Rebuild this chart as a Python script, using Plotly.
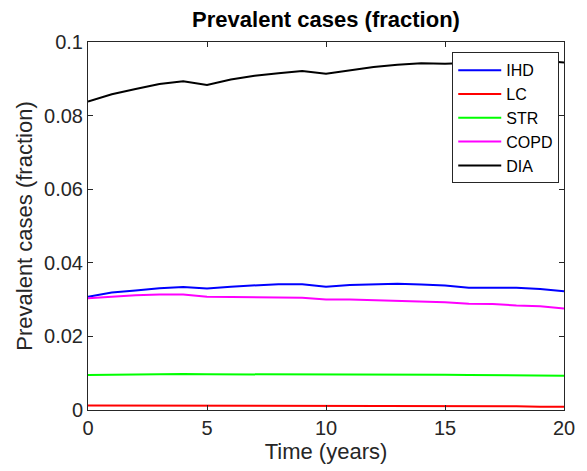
import plotly.graph_objects as go

years = list(range(0, 21))
IHD = [0.0308, 0.0319, 0.0325, 0.0331, 0.0334, 0.0330, 0.0335, 0.0339, 0.0342, 0.0342, 0.0335,
       0.0340, 0.0342, 0.0343, 0.0341, 0.0338, 0.0332, 0.0333, 0.0332, 0.0329, 0.0323]
LC = [0.0012, 0.0012, 0.0012, 0.0012, 0.0012, 0.0011, 0.0011, 0.0011, 0.0011, 0.0011, 0.0011,
      0.0011, 0.0011, 0.0011, 0.0011, 0.0010, 0.0010, 0.0010, 0.0010, 0.0009, 0.0009]
STR = [0.0095, 0.0096, 0.0097, 0.0097, 0.0098, 0.0097, 0.0097, 0.0098, 0.0098, 0.0098, 0.0097,
       0.0097, 0.0097, 0.0097, 0.0097, 0.0096, 0.0095, 0.0095, 0.0095, 0.0094, 0.0093]
COPD = [0.0304, 0.0309, 0.0312, 0.0314, 0.0314, 0.0308, 0.0308, 0.0308, 0.0306, 0.0305, 0.0300,
        0.0300, 0.0298, 0.0298, 0.0296, 0.0293, 0.0289, 0.0288, 0.0284, 0.0282, 0.0276]
DIA = [0.0838, 0.0858, 0.0872, 0.0886, 0.0893, 0.0883, 0.0898, 0.0908, 0.0915, 0.0921, 0.0914,
       0.0924, 0.0932, 0.0938, 0.0942, 0.0941, 0.0943, 0.0945, 0.0948, 0.0950, 0.0944]

series = [("IHD", IHD, "#0000ff"), ("LC", LC, "#ff0000"), ("STR", STR, "#00ff00"),
          ("COPD", COPD, "#ff00ff"), ("DIA", DIA, "#000000")]

fig = go.Figure()
for name, vals, col in series:
    fig.add_trace(go.Scatter(x=years, y=vals, mode="lines", name=name,
                             line=dict(color=col, width=2)))

axis_common = dict(showline=True, linecolor="#262626", linewidth=1, mirror="ticks",
                   ticks="inside", ticklen=5, tickcolor="#262626", showgrid=False,
                   zeroline=False, tickfont=dict(size=20, color="#262626"),
                   title_font=dict(size=22, color="#262626"))

fig.update_layout(
    width=587, height=471,
    margin=dict(l=88, r=14, t=42, b=61),
    paper_bgcolor="white", plot_bgcolor="white",
    font=dict(family="Liberation Sans, Arial, sans-serif", color="#262626"),
    title=dict(text="<b>Prevalent cases (fraction)</b>", x=0.5, xanchor="center", xref="paper",
               y=0.958, yanchor="middle", font=dict(size=22, color="black")),
    xaxis=dict(range=[0, 20], tickvals=[0, 5, 10, 15, 20], title=dict(text="Time (years)", standoff=4),
               **axis_common),
    yaxis=dict(range=[0, 0.1], tickvals=[0, 0.02, 0.04, 0.06, 0.08, 0.1],
               ticktext=["0", "0.02", "0.04", "0.06", "0.08", "0.1"],
               title=dict(text="Prevalent cases (fraction)", standoff=5), **axis_common),
    legend=dict(x=0.99, y=0.972, xanchor="right", yanchor="top",
                bgcolor="white", bordercolor="#262626", borderwidth=1,
                font=dict(size=16, color="black"), tracegroupgap=0, itemwidth=43),
    showlegend=True,
)

fig.write_html("out.html")
